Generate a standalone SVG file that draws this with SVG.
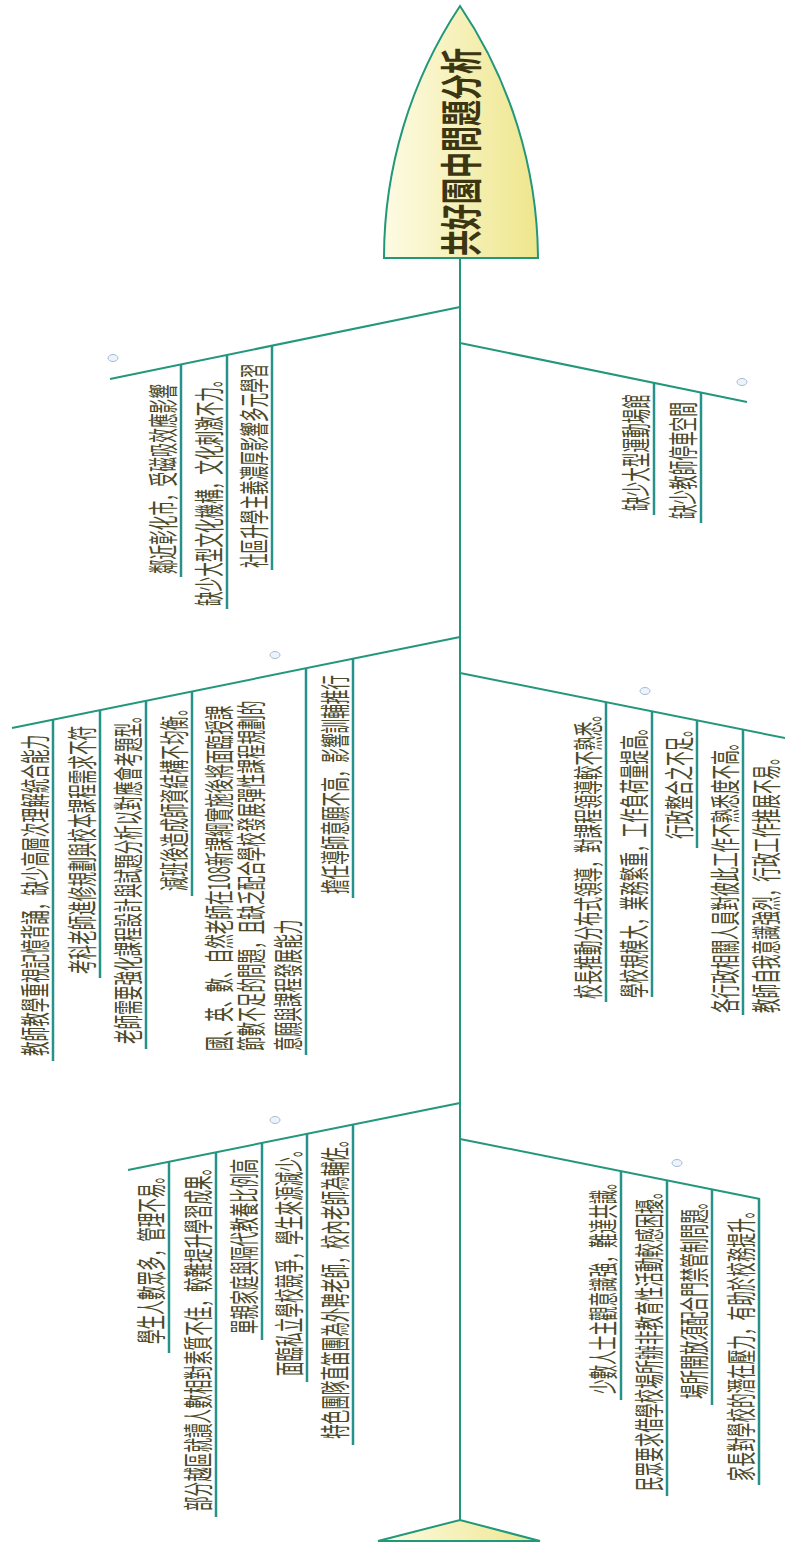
<svg xmlns="http://www.w3.org/2000/svg" width="785" height="1544" viewBox="0 0 785 1544">
<defs>
<linearGradient id="headGrad" x1="0" y1="0" x2="1" y2="0">
<stop offset="0" stop-color="#fdfbe4"/>
<stop offset="1" stop-color="#eee68c"/>
</linearGradient>
<style>
.bone{stroke:#23977a;stroke-width:2;fill:none}
.sub{stroke:#27928a;stroke-width:2.5;fill:none}
.lbl{font-family:"Noto Sans CJK SC","Noto Sans CJK TC",sans-serif;font-size:14.6px;fill:#4b4a2a}
.title{font-family:"Noto Sans CJK SC","Noto Sans CJK TC",sans-serif;font-size:26px;font-weight:bold;fill:#3b3512}
.icon{fill:#eef3fa;stroke:#a4bcd8;stroke-width:1}
</style>
</defs>
<rect width="785" height="1544" fill="#ffffff"/>

<g id="connectors">
<line class="bone" x1="460" y1="258" x2="460" y2="1520"/>
<line class="bone" x1="460" y1="307" x2="110" y2="379"/>
<line class="bone" x1="460" y1="637" x2="12" y2="728"/>
<line class="bone" x1="460" y1="1103" x2="128" y2="1170"/>
<line class="bone" x1="460" y1="343" x2="747" y2="402"/>
<line class="bone" x1="460" y1="673" x2="800" y2="741"/>
<line class="bone" x1="460" y1="1139" x2="760" y2="1199"/>
<line class="sub" x1="181" y1="364.4" x2="181" y2="577"/>
<line class="sub" x1="227" y1="354.9" x2="227" y2="609"/>
<line class="sub" x1="272" y1="345.7" x2="272" y2="570"/>
<line class="sub" x1="53" y1="719.7" x2="53" y2="1061"/>
<line class="sub" x1="100" y1="710.1" x2="100" y2="978"/>
<line class="sub" x1="146" y1="700.8" x2="146" y2="1049"/>
<line class="sub" x1="192" y1="691.4" x2="192" y2="896"/>
<line class="sub" x1="306" y1="668.3" x2="306" y2="1055"/>
<line class="sub" x1="353" y1="658.7" x2="353" y2="898"/>
<line class="sub" x1="169" y1="1161.7" x2="169" y2="1353"/>
<line class="sub" x1="216" y1="1152.2" x2="216" y2="1517"/>
<line class="sub" x1="262" y1="1143" x2="262" y2="1340"/>
<line class="sub" x1="307" y1="1133.9" x2="307" y2="1382"/>
<line class="sub" x1="353" y1="1124.6" x2="353" y2="1445"/>
<line class="sub" x1="654" y1="382.9" x2="654" y2="515"/>
<line class="sub" x1="701" y1="392.5" x2="701" y2="523"/>
<line class="sub" x1="606" y1="702.2" x2="606" y2="1002"/>
<line class="sub" x1="652" y1="711.4" x2="652" y2="997"/>
<line class="sub" x1="697" y1="720.4" x2="697" y2="848"/>
<line class="sub" x1="743" y1="729.6" x2="743" y2="1015"/>
<line class="sub" x1="788" y1="738.6" x2="788" y2="1018"/>
<line class="sub" x1="621" y1="1171.2" x2="621" y2="1400"/>
<line class="sub" x1="667" y1="1180.4" x2="667" y2="1496"/>
<line class="sub" x1="712" y1="1189.4" x2="712" y2="1405"/>
<line class="sub" x1="759" y1="1198.8" x2="759" y2="1485"/>
</g>

<g id="head">
<path d="M384,258 A456,456 0 0 1 460,6 A456,456 0 0 1 538,258 Z" fill="url(#headGrad)" stroke="#23977a" stroke-width="2"/>
<text class="title" transform="translate(477,256) rotate(-90) scale(1,1.62)">共好園中問題分析</text>
</g>

<g id="tail">
<path d="M378,1541 L460,1520 L540,1541 Z" fill="url(#headGrad)" stroke="#23977a" stroke-width="2"/>
</g>

<g id="branch-left-1">
<ellipse class="icon" cx="113" cy="358" rx="5" ry="3.5"/>
<text class="lbl" transform="translate(173.5,574) rotate(-90) scale(1,2)">鄰近彰化市，受磁吸效應影響</text>
<text class="lbl" transform="translate(219.5,606) rotate(-90) scale(1,2)">缺少大型文化機構，文化刺激不力。</text>
<text class="lbl" transform="translate(264.5,568) rotate(-90) scale(1,2)">社區升學主義濃厚影響多元學習</text>
</g>

<g id="branch-left-2">
<ellipse class="icon" cx="275" cy="655" rx="5" ry="3.5"/>
<text class="lbl" transform="translate(45.5,1056) rotate(-90) scale(1,2)">教師教學重視記憶背誦，缺少高層次理解統合能力</text>
<text class="lbl" transform="translate(92.5,974) rotate(-90) scale(1,2)">考科老師進修規劃與校本課程需求不符</text>
<text class="lbl" transform="translate(138.5,1044) rotate(-90) scale(1,2)">老師需要強化課程設計與試題分析以對應會考題型。</text>
<text class="lbl" transform="translate(184.5,891) rotate(-90) scale(1,2)">減班後造成師資結構不均衡。</text>
<text class="lbl" transform="translate(229.5,1051) rotate(-90) scale(1,2)">國、英、數、自然老師在108新課綱實施後將面臨授課</text>
<text class="lbl" transform="translate(261.5,1051) rotate(-90) scale(1,2)">節數不足的問題，且缺乏配合學校發展彈性課程規劃的</text>
<text class="lbl" transform="translate(298.5,1051) rotate(-90) scale(1,2)">意願與課程發展能力</text>
<text class="lbl" transform="translate(345.5,894) rotate(-90) scale(1,2)">擔任導師意願不高，影響訓輔推行</text>
</g>

<g id="branch-left-3">
<ellipse class="icon" cx="275" cy="1120" rx="5" ry="3.5"/>
<text class="lbl" transform="translate(161.5,1344) rotate(-90) scale(1,2)">學生人數眾多，管理不易。</text>
<text class="lbl" transform="translate(208.5,1511) rotate(-90) scale(1,2)">部分越區就讀人數相對素質不佳，較難提升學習成果。</text>
<text class="lbl" transform="translate(254.5,1334) rotate(-90) scale(1,2)">單親家庭與隔代教養比例高</text>
<text class="lbl" transform="translate(299.5,1376) rotate(-90) scale(1,2)">面臨私立學校競爭，學生來源減少。</text>
<text class="lbl" transform="translate(345.5,1439) rotate(-90) scale(1,2)">特色團隊直笛團為外聘老師，校內老師為輔佐。</text>
</g>

<g id="branch-right-1">
<ellipse class="icon" cx="742" cy="382" rx="5" ry="3.5"/>
<text class="lbl" transform="translate(646.5,511) rotate(-90) scale(1,2)">缺少大型運動場館</text>
<text class="lbl" transform="translate(693.5,519) rotate(-90) scale(1,2)">缺少教師停車空間</text>
</g>

<g id="branch-right-2">
<ellipse class="icon" cx="645" cy="691" rx="5" ry="3.5"/>
<text class="lbl" transform="translate(598.5,999) rotate(-90) scale(1,2)">校長推動分布式領導，對課程領導較不熟悉。</text>
<text class="lbl" transform="translate(644.5,998) rotate(-90) scale(1,2)">學校規模大，業務繁重，工作負荷量提高。</text>
<text class="lbl" transform="translate(689.5,839) rotate(-90) scale(1,2)">行政整合之不足。</text>
<text class="lbl" transform="translate(735.5,1013) rotate(-90) scale(1,2)">各行政相關人員對彼此工作不熟悉度不高。</text>
<text class="lbl" transform="translate(777,1013) rotate(-90) scale(1,2)">教師自我意識強烈，行政工作推展不易。</text>
</g>

<g id="branch-right-3">
<ellipse class="icon" cx="677" cy="1163" rx="5" ry="3.5"/>
<text class="lbl" transform="translate(613.5,1394) rotate(-90) scale(1,2)">少數人士主觀意識強，難達共識。</text>
<text class="lbl" transform="translate(659.5,1491) rotate(-90) scale(1,2)">民眾要求借學校場所辦非教育性活動較感困擾。</text>
<text class="lbl" transform="translate(704.5,1399) rotate(-90) scale(1,2)">場所開放須配合門禁管制問題。</text>
<text class="lbl" transform="translate(751.5,1481) rotate(-90) scale(1,2)">家長對學校的潛在壓力，有助於校務提升。</text>
</g>
</svg>
